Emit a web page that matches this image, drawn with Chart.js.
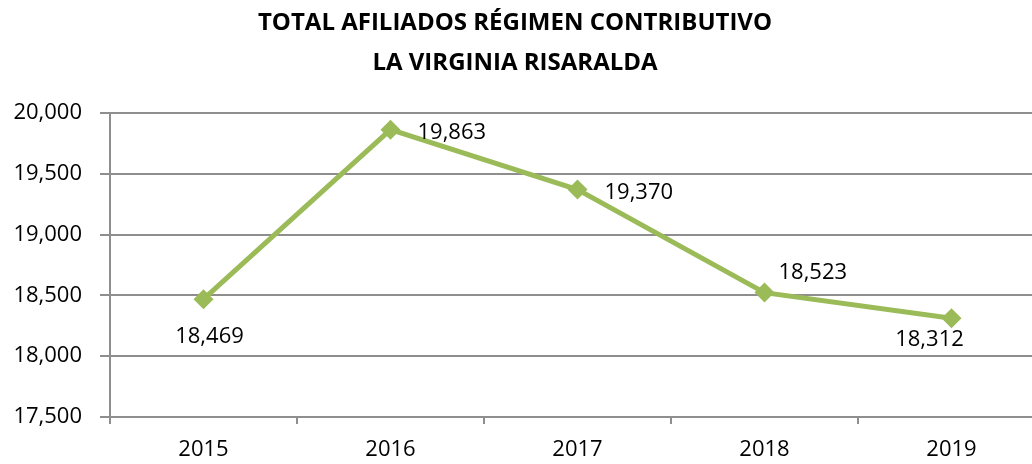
<!DOCTYPE html>
<html>
<head>
<meta charset="utf-8">
<script src="https://cdn.jsdelivr.net/npm/chart.js@4.4.1/dist/chart.umd.min.js"></script>
<style>
  html, body { margin: 0; padding: 0; background: #fff; overflow: hidden; }
  #wrap { width: 1055px; height: 464px; position: relative; }
</style>
</head>
<body>
<div id="wrap"><canvas id="chart"></canvas></div>
<script>
// datos
const years = ['2015', '2016', '2017', '2018', '2019'];
const afiliados = [18469, 19863, 19370, 18523, 18312];
const yTicks = [17500, 18000, 18500, 19000, 19500, 20000];
const titleLines = ['TOTAL AFILIADOS RÉGIMEN CONTRIBUTIVO', 'LA VIRGINIA RISARALDA'];
// donde va cada etiqueta de valor respecto al punto
const labelPlace = ['below', 'right', 'right', 'aboveRight', 'belowLeft'];

const FONT = "'Open Sans', 'Noto Sans', sans-serif";
const GRID = '#8e8e8e';

const fmt = v => v.toLocaleString('en-US');

// Titulo dibujado a mano
const titlePlugin = {
    id: 'titulo',
    afterDraw(chart) {
        const ctx = chart.ctx;
        ctx.save();
        ctx.fillStyle = '#000';
        ctx.font = "bold 24px " + FONT;
        ctx.textAlign = 'center';
        ctx.textBaseline = 'middle';
        ctx.fillText(titleLines[0], 515, 23);
        ctx.fillText(titleLines[1], 515, 63);
        ctx.restore();
    }
};

// Etiquetas de datos
const valueLabels = {
    id: 'valores',
    afterDatasetsDraw(chart) {
        const ctx = chart.ctx;
        const meta = chart.getDatasetMeta(0);
        ctx.save();
        ctx.fillStyle = '#000';
        ctx.font = "22px " + FONT;
        ctx.textBaseline = 'middle';
        meta.data.forEach((pt, i) => {
            const txt = fmt(afiliados[i]);
            const place = labelPlace[i];
            let x = pt.x, y = pt.y;
            if (place === 'below') { ctx.textAlign = 'center'; x += 6; y += 38; }
            else if (place === 'belowLeft') { ctx.textAlign = 'center'; x -= 22; y += 21; }
            else if (place === 'right') { ctx.textAlign = 'left'; x += 27; y += 3; }
            else if (place === 'aboveRight') { ctx.textAlign = 'left'; x += 14; y -= 20; }
            ctx.fillText(txt, x, y);
        });
        ctx.restore();
    }
};

new Chart(document.getElementById('chart'), {
    type: 'line',
    data: {
        labels: years,
        datasets: [{
            data: afiliados,
            borderColor: '#9bbb59',
            backgroundColor: '#9bbb59',
            borderWidth: 5,
            pointStyle: 'rectRot',
            pointRadius: 10,
            pointHoverRadius: 10,
            pointBorderWidth: 0,
            tension: 0,
            fill: false
        }]
    },
    options: {
        responsive: true,
        maintainAspectRatio: false,
        animation: false,
        layout: { padding: { top: 113, right: 0, left: 0, bottom: 0 } },
        plugins: {
            legend: { display: false },
            title: { display: false },
            tooltip: { enabled: false }
        },
        scales: {
            x: {
                offset: true,
                border: { color: GRID, width: 2 },
                grid: { offset: true, drawOnChartArea: false, drawTicks: true, tickLength: 7, color: GRID, lineWidth: 2 },
                ticks: { color: '#000', font: { family: FONT, size: 22 }, padding: 13, maxRotation: 0 },
                afterFit(scale) { scale.height = 47; }
            },
            y: {
                min: 17500,
                max: 20000,
                border: { color: GRID, width: 2 },
                grid: { color: GRID, lineWidth: 2, drawTicks: true, tickLength: 10 },
                ticks: {
                    stepSize: 500,
                    color: '#000',
                    padding: 18,
                    font: { family: FONT, size: 22 },
                    callback: v => yTicks.includes(v) ? fmt(v) : ''
                },
                afterFit(scale) { scale.width = 110; }
            }
        }
    },
    plugins: [titlePlugin, valueLabels]
});
</script>
</body>
</html>
